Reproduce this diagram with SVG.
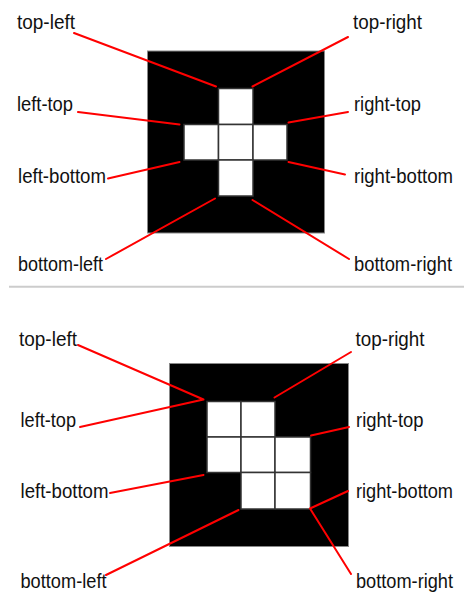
<svg xmlns="http://www.w3.org/2000/svg" width="464" height="594" viewBox="0 0 464 594">
<style>
.bg{fill:#000;stroke:#888;stroke-width:1}
.cell{fill:#fff;stroke:#333;stroke-width:1.5}
.lbl{font-family:"Liberation Sans",Arial,sans-serif;font-size:20px;fill:#111}
.ln{stroke:#f00;stroke-width:2;fill:none;stroke-linecap:round;stroke-linejoin:round}
</style>
<rect width="464" height="594" fill="#fff"/>
<line x1="9" y1="286.7" x2="464" y2="286.7" stroke="#ccc" stroke-width="2"/>

<g id="panel-top">
  <rect class="bg" x="147.5" y="51" width="177" height="182"/>
  <rect class="cell" x="218.5" y="88.5" width="34.5" height="36"/>
  <rect class="cell" x="184" y="124.5" width="34.5" height="35.5"/>
  <rect class="cell" x="218.5" y="124.5" width="34.5" height="35.5"/>
  <rect class="cell" x="253" y="124.5" width="34" height="35.5"/>
  <rect class="cell" x="218.5" y="160" width="34.5" height="36"/>
</g>

<g id="panel-bottom">
  <rect class="bg" x="169.5" y="363.5" width="179" height="183"/>
  <rect class="cell" x="207" y="401.5" width="34" height="35.5"/>
  <rect class="cell" x="241" y="401.5" width="34" height="35.5"/>
  <rect class="cell" x="207" y="437" width="34" height="35.5"/>
  <rect class="cell" x="241" y="437" width="34" height="35.5"/>
  <rect class="cell" x="275" y="437" width="35.5" height="35.5"/>
  <rect class="cell" x="241" y="472.5" width="34" height="36.5"/>
  <rect class="cell" x="275" y="472.5" width="35.5" height="36.5"/>
</g>

<g id="connectors">
  <line class="ln" x1="74" y1="33" x2="216" y2="86.5"/>
  <line class="ln" x1="78" y1="112" x2="179.5" y2="124.5"/>
  <line class="ln" x1="348" y1="37" x2="252.5" y2="86.5"/>
  <line class="ln" x1="348" y1="112" x2="288.5" y2="122.5"/>
  <line class="ln" x1="108" y1="178.5" x2="179.5" y2="162"/>
  <line class="ln" x1="106" y1="259" x2="215" y2="198.5"/>
  <line class="ln" x1="345" y1="174.5" x2="288.5" y2="162"/>
  <line class="ln" x1="349" y1="259" x2="252.5" y2="200"/>

  <polyline class="ln" points="78,345 203.5,399.5 80,427"/>
  <line class="ln" x1="351" y1="352" x2="274.5" y2="397.5"/>
  <line class="ln" x1="349" y1="427" x2="311" y2="435.5"/>
  <line class="ln" x1="110" y1="493" x2="203.5" y2="475"/>
  <line class="ln" x1="106" y1="575" x2="238.5" y2="510"/>
  <polyline class="ln" points="348,491 310,508.5 351,574"/>
</g>

<g id="labels-top">
  <text class="lbl" x="17" y="29" textLength="58" lengthAdjust="spacingAndGlyphs">top-left</text>
  <text class="lbl" x="17" y="111" textLength="56" lengthAdjust="spacingAndGlyphs">left-top</text>
  <text class="lbl" x="353" y="29" textLength="69" lengthAdjust="spacingAndGlyphs">top-right</text>
  <text class="lbl" x="354" y="111" textLength="67" lengthAdjust="spacingAndGlyphs">right-top</text>
  <text class="lbl" x="18" y="183" textLength="88" lengthAdjust="spacingAndGlyphs">left-bottom</text>
  <text class="lbl" x="18" y="271" textLength="85" lengthAdjust="spacingAndGlyphs">bottom-left</text>
  <text class="lbl" x="354" y="183" textLength="99" lengthAdjust="spacingAndGlyphs">right-bottom</text>
  <text class="lbl" x="354" y="271" textLength="98" lengthAdjust="spacingAndGlyphs">bottom-right</text>
</g>

<g id="labels-bottom">
  <text class="lbl" x="19" y="346" textLength="58" lengthAdjust="spacingAndGlyphs">top-left</text>
  <text class="lbl" x="20.5" y="426.5" textLength="55.5" lengthAdjust="spacingAndGlyphs">left-top</text>
  <text class="lbl" x="355.5" y="346" textLength="69" lengthAdjust="spacingAndGlyphs">top-right</text>
  <text class="lbl" x="356" y="426.5" textLength="67.5" lengthAdjust="spacingAndGlyphs">right-top</text>
  <text class="lbl" x="20.5" y="498" textLength="88" lengthAdjust="spacingAndGlyphs">left-bottom</text>
  <text class="lbl" x="20.5" y="588" textLength="86" lengthAdjust="spacingAndGlyphs">bottom-left</text>
  <text class="lbl" x="356" y="498" textLength="97" lengthAdjust="spacingAndGlyphs">right-bottom</text>
  <text class="lbl" x="356" y="588" textLength="97" lengthAdjust="spacingAndGlyphs">bottom-right</text>
</g>
</svg>
